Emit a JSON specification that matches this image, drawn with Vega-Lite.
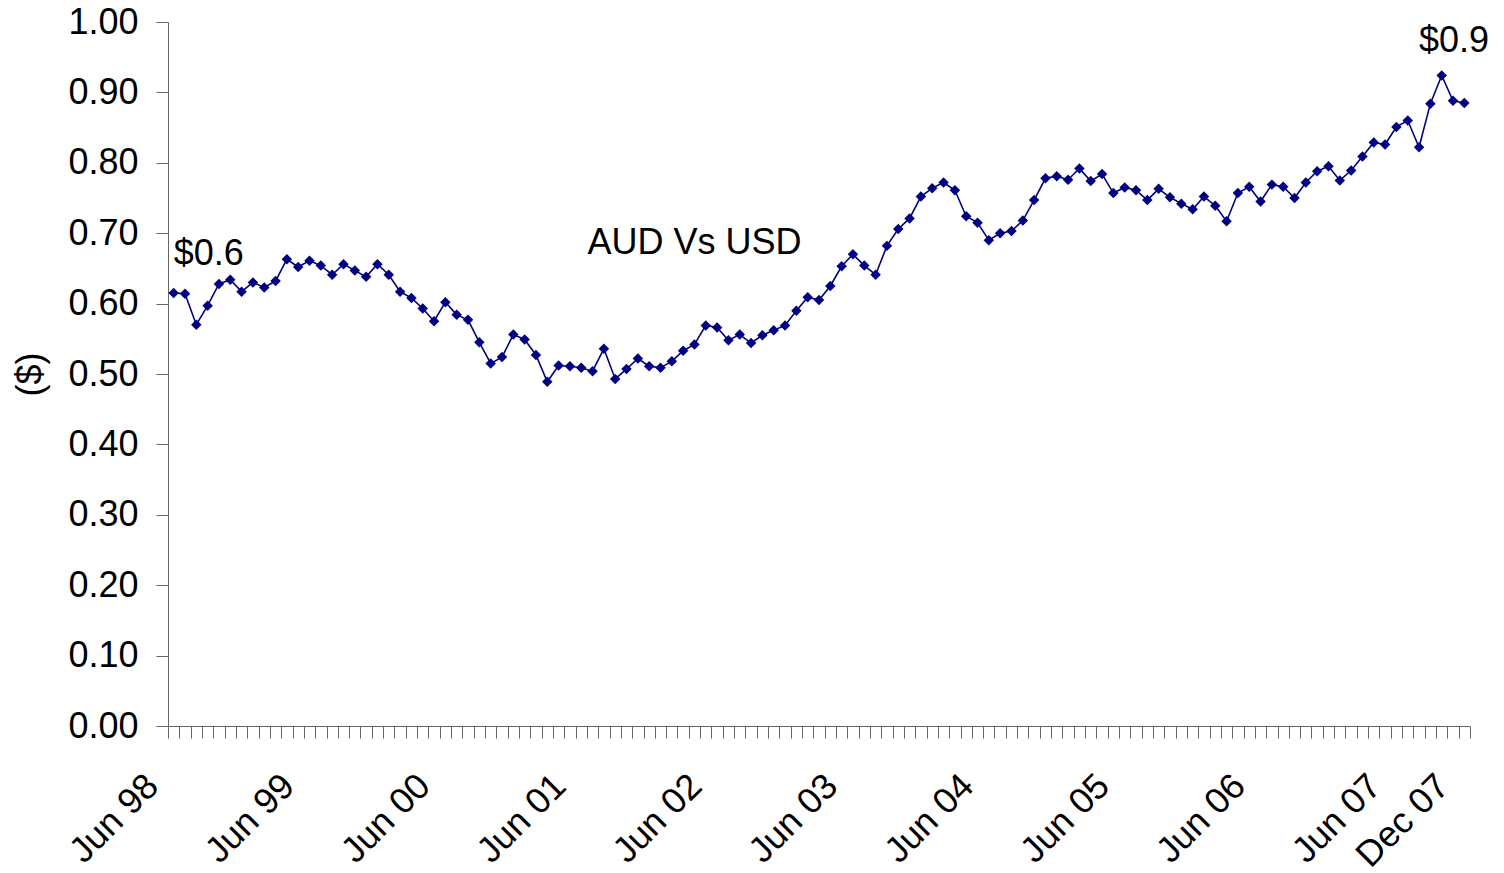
{
  "$schema": "https://vega.github.io/schema/vega-lite/v6.json",
  "width": 1302,
  "height": 704,
  "autosize": {"type": "none"},
  "padding": {"left": 168, "top": 22, "right": 34, "bottom": 147},
  "background": "white",
  "config": {
    "view": {"stroke": null},
    "axis": {
      "labelFont": "Liberation Sans",
      "titleFont": "Liberation Sans",
      "labelColor": "black",
      "titleColor": "black",
      "domainColor": "#666666",
      "tickColor": "#666666",
      "grid": false
    }
  },
  "resolve": {"axis": {"x": "independent"}},
  "datasets": {
    "fx": [
      {"month": "Jun 98", "value": 0.615}, {"month": "Jul 98", "value": 0.614}, {"month": "Aug 98", "value": 0.570}, {"month": "Sep 98", "value": 0.597},
      {"month": "Oct 98", "value": 0.628}, {"month": "Nov 98", "value": 0.634}, {"month": "Dec 98", "value": 0.617}, {"month": "Jan 99", "value": 0.630},
      {"month": "Feb 99", "value": 0.623}, {"month": "Mar 99", "value": 0.632}, {"month": "Apr 99", "value": 0.663}, {"month": "May 99", "value": 0.652},
      {"month": "Jun 99", "value": 0.661}, {"month": "Jul 99", "value": 0.654}, {"month": "Aug 99", "value": 0.641}, {"month": "Sep 99", "value": 0.656},
      {"month": "Oct 99", "value": 0.647}, {"month": "Nov 99", "value": 0.638}, {"month": "Dec 99", "value": 0.656}, {"month": "Jan 00", "value": 0.641},
      {"month": "Feb 00", "value": 0.617}, {"month": "Mar 00", "value": 0.608}, {"month": "Apr 00", "value": 0.593}, {"month": "May 00", "value": 0.575},
      {"month": "Jun 00", "value": 0.602}, {"month": "Jul 00", "value": 0.584}, {"month": "Aug 00", "value": 0.577}, {"month": "Sep 00", "value": 0.545},
      {"month": "Oct 00", "value": 0.515}, {"month": "Nov 00", "value": 0.524}, {"month": "Dec 00", "value": 0.556}, {"month": "Jan 01", "value": 0.549},
      {"month": "Feb 01", "value": 0.527}, {"month": "Mar 01", "value": 0.489}, {"month": "Apr 01", "value": 0.512}, {"month": "May 01", "value": 0.511},
      {"month": "Jun 01", "value": 0.509}, {"month": "Jul 01", "value": 0.504}, {"month": "Aug 01", "value": 0.536}, {"month": "Sep 01", "value": 0.493},
      {"month": "Oct 01", "value": 0.507}, {"month": "Nov 01", "value": 0.522}, {"month": "Dec 01", "value": 0.511}, {"month": "Jan 02", "value": 0.509},
      {"month": "Feb 02", "value": 0.518}, {"month": "Mar 02", "value": 0.533}, {"month": "Apr 02", "value": 0.542}, {"month": "May 02", "value": 0.569},
      {"month": "Jun 02", "value": 0.566}, {"month": "Jul 02", "value": 0.548}, {"month": "Aug 02", "value": 0.556}, {"month": "Sep 02", "value": 0.544},
      {"month": "Oct 02", "value": 0.555}, {"month": "Nov 02", "value": 0.562}, {"month": "Dec 02", "value": 0.569}, {"month": "Jan 03", "value": 0.590},
      {"month": "Feb 03", "value": 0.609}, {"month": "Mar 03", "value": 0.605}, {"month": "Apr 03", "value": 0.625}, {"month": "May 03", "value": 0.653},
      {"month": "Jun 03", "value": 0.670}, {"month": "Jul 03", "value": 0.654}, {"month": "Aug 03", "value": 0.641}, {"month": "Sep 03", "value": 0.682},
      {"month": "Oct 03", "value": 0.706}, {"month": "Nov 03", "value": 0.721}, {"month": "Dec 03", "value": 0.752}, {"month": "Jan 04", "value": 0.764},
      {"month": "Feb 04", "value": 0.772}, {"month": "Mar 04", "value": 0.761}, {"month": "Apr 04", "value": 0.724}, {"month": "May 04", "value": 0.715},
      {"month": "Jun 04", "value": 0.690}, {"month": "Jul 04", "value": 0.700}, {"month": "Aug 04", "value": 0.703}, {"month": "Sep 04", "value": 0.718},
      {"month": "Oct 04", "value": 0.747}, {"month": "Nov 04", "value": 0.778}, {"month": "Dec 04", "value": 0.781}, {"month": "Jan 05", "value": 0.776},
      {"month": "Feb 05", "value": 0.792}, {"month": "Mar 05", "value": 0.774}, {"month": "Apr 05", "value": 0.784}, {"month": "May 05", "value": 0.757},
      {"month": "Jun 05", "value": 0.765}, {"month": "Jul 05", "value": 0.761}, {"month": "Aug 05", "value": 0.747}, {"month": "Sep 05", "value": 0.763},
      {"month": "Oct 05", "value": 0.751}, {"month": "Nov 05", "value": 0.742}, {"month": "Dec 05", "value": 0.734}, {"month": "Jan 06", "value": 0.752},
      {"month": "Feb 06", "value": 0.739}, {"month": "Mar 06", "value": 0.717}, {"month": "Apr 06", "value": 0.757}, {"month": "May 06", "value": 0.766},
      {"month": "Jun 06", "value": 0.745}, {"month": "Jul 06", "value": 0.769}, {"month": "Aug 06", "value": 0.766}, {"month": "Sep 06", "value": 0.750},
      {"month": "Oct 06", "value": 0.772}, {"month": "Nov 06", "value": 0.788}, {"month": "Dec 06", "value": 0.795}, {"month": "Jan 07", "value": 0.775},
      {"month": "Feb 07", "value": 0.789}, {"month": "Mar 07", "value": 0.809}, {"month": "Apr 07", "value": 0.829}, {"month": "May 07", "value": 0.826},
      {"month": "Jun 07", "value": 0.851}, {"month": "Jul 07", "value": 0.860}, {"month": "Aug 07", "value": 0.822}, {"month": "Sep 07", "value": 0.884},
      {"month": "Oct 07", "value": 0.924}, {"month": "Nov 07", "value": 0.888}, {"month": "Dec 07", "value": 0.885}
    ],
    "notesLeft": [
      {"month": "Jun 98", "value": 0.655, "label": "$0.6"},
      {"month": "Aug 07", "value": 0.958, "label": "$0.9"}
    ],
    "notesCenter": [
      {"month": "Apr 02", "value": 0.670, "label": "AUD Vs USD"}
    ]
  },
  "encoding": {
    "y": {
      "field": "value",
      "type": "quantitative",
      "scale": {"domain": [0, 1], "nice": false},
      "axis": {
        "title": "($)",
        "titleFontSize": 36,
        "titleFontWeight": "normal",
        "titlePadding": 18,
        "values": [0, 0.1, 0.2, 0.3, 0.4, 0.5, 0.6, 0.7, 0.8, 0.9, 1.0],
        "format": ".2f",
        "tickSize": 12,
        "labelFontSize": 36,
        "labelPadding": 18
      }
    }
  },
  "layer": [
    {
      "data": {"name": "fx"},
      "mark": {"type": "line", "color": "#000080", "strokeWidth": 1.6},
      "encoding": {
        "x": {
          "field": "month",
          "type": "ordinal",
          "sort": null,
          "scale": {"type": "band", "paddingInner": 0, "paddingOuter": 0},
          "axis": {
            "orient": "bottom",
            "title": null,
            "tickBand": "extent",
            "tickSize": 12,
            "labels": false
          }
        }
      }
    },
    {
      "data": {"name": "fx"},
      "mark": {"type": "point", "shape": "diamond", "filled": true, "color": "#000080", "size": 110, "opacity": 1},
      "encoding": {
        "x": {
          "field": "month",
          "type": "ordinal",
          "sort": null,
          "axis": {
            "orient": "bottom",
            "title": null,
            "values": ["Jun 98", "Jun 99", "Jun 00", "Jun 01", "Jun 02", "Jun 03", "Jun 04", "Jun 05", "Jun 06", "Jun 07", "Dec 07"],
            "ticks": false,
            "domain": false,
            "labelAngle": -45,
            "labelAlign": "right",
            "labelBaseline": "middle",
            "labelFontSize": 36,
            "labelPadding": 54,
            "labelOffset": -21,
            "labelOverlap": false,
            "labelBound": false
          }
        }
      }
    },
    {
      "data": {"name": "notesLeft"},
      "mark": {"type": "text", "align": "left", "baseline": "alphabetic", "fontSize": 36, "color": "black", "font": "Liberation Sans"},
      "encoding": {
        "x": {"field": "month", "type": "ordinal", "sort": null, "axis": null},
        "text": {"field": "label"}
      }
    },
    {
      "data": {"name": "notesCenter"},
      "mark": {"type": "text", "align": "center", "baseline": "alphabetic", "fontSize": 36, "color": "black", "font": "Liberation Sans"},
      "encoding": {
        "x": {"field": "month", "type": "ordinal", "sort": null, "axis": null},
        "text": {"field": "label"}
      }
    }
  ]
}
